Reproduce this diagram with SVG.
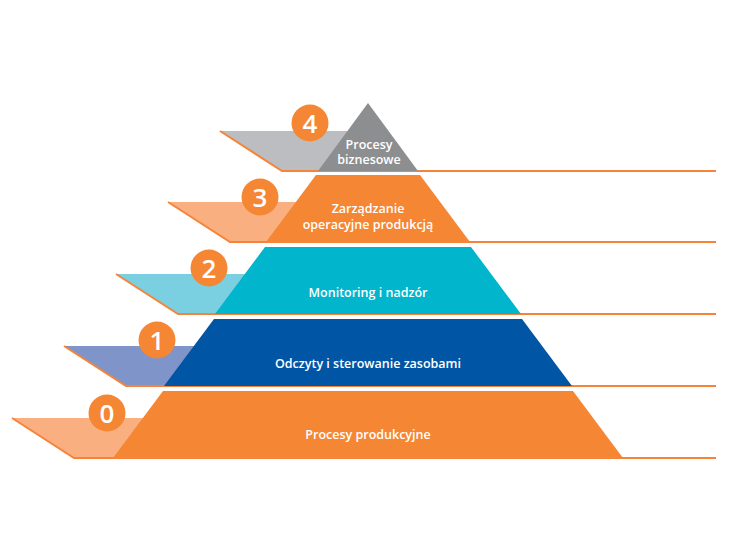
<svg xmlns="http://www.w3.org/2000/svg" width="730" height="550" viewBox="0 0 730 550">
<style>
.line{fill:none;stroke:#F5843A;stroke-width:2}
.lbl{font-family:"Open Sans","Liberation Sans",sans-serif;font-size:12.5px;font-weight:600;fill:#fff;text-anchor:middle}
.num{font-family:"Open Sans","Liberation Sans",sans-serif;font-size:26px;font-weight:600;fill:#fff;text-anchor:middle}
.badge{fill:#F58634}
</style>
<rect width="730" height="550" fill="#fff"/>
<g id="level0">
<polygon points="12,418 368,418 368,458 74,458" fill="#F9AF80"/>
<polyline class="line" points="12,418 74,458 716,458"/>
<polygon points="163,391 573,391 623,458 113,458" fill="#F58634"/>
<circle class="badge" cx="107" cy="413" r="18.5"/>
<text class="num" x="107" y="422.5">0</text>
<text class="lbl" x="368" y="439">Procesy produkcyjne</text>
</g>
<g id="level1">
<polygon points="64,346 368,346 368,386 126,386" fill="#7F94C8"/>
<polyline class="line" points="64,346 126,386 716,386"/>
<polygon points="214,319 522,319 572,386 164,386" fill="#0055A5"/>
<circle class="badge" cx="157" cy="340" r="18.5"/>
<text class="num" x="157" y="349.5">1</text>
<text class="lbl" x="368" y="368">Odczyty i sterowanie zasobami</text>
</g>
<g id="level2">
<polygon points="116,274 368,274 368,314 178,314" fill="#7ACFE0"/>
<polyline class="line" points="116,274 178,314 716,314"/>
<polygon points="265,247 471,247 521,314 215,314" fill="#00B5CC"/>
<circle class="badge" cx="209" cy="268" r="18.5"/>
<text class="num" x="209" y="277.5">2</text>
<text class="lbl" x="368" y="297">Monitoring i nadzór</text>
</g>
<g id="level3">
<polygon points="168,202 368,202 368,242 230,242" fill="#F9AF80"/>
<polyline class="line" points="168,202 230,242 716,242"/>
<polygon points="316,175 420,175 470,242 266,242" fill="#F58634"/>
<circle class="badge" cx="260" cy="197" r="18.5"/>
<text class="num" x="260" y="206.5">3</text>
<text class="lbl" x="368" y="213">Zarządzanie</text>
<text class="lbl" x="368" y="229">operacyjne produkcją</text>
</g>
<g id="level4">
<polygon points="220,131 368,131 368,171 282,171" fill="#BCBDC0"/>
<polyline class="line" points="220,131 282,171 716,171"/>
<polygon points="368,103 418,171 318,171" fill="#8D8E90"/>
<circle class="badge" cx="310" cy="123" r="18.5"/>
<text class="num" x="310" y="132.5">4</text>
<text class="lbl" x="369" y="149">Procesy</text>
<text class="lbl" x="369" y="164">biznesowe</text>
</g>
<g id="connectors"></g>
</svg>
